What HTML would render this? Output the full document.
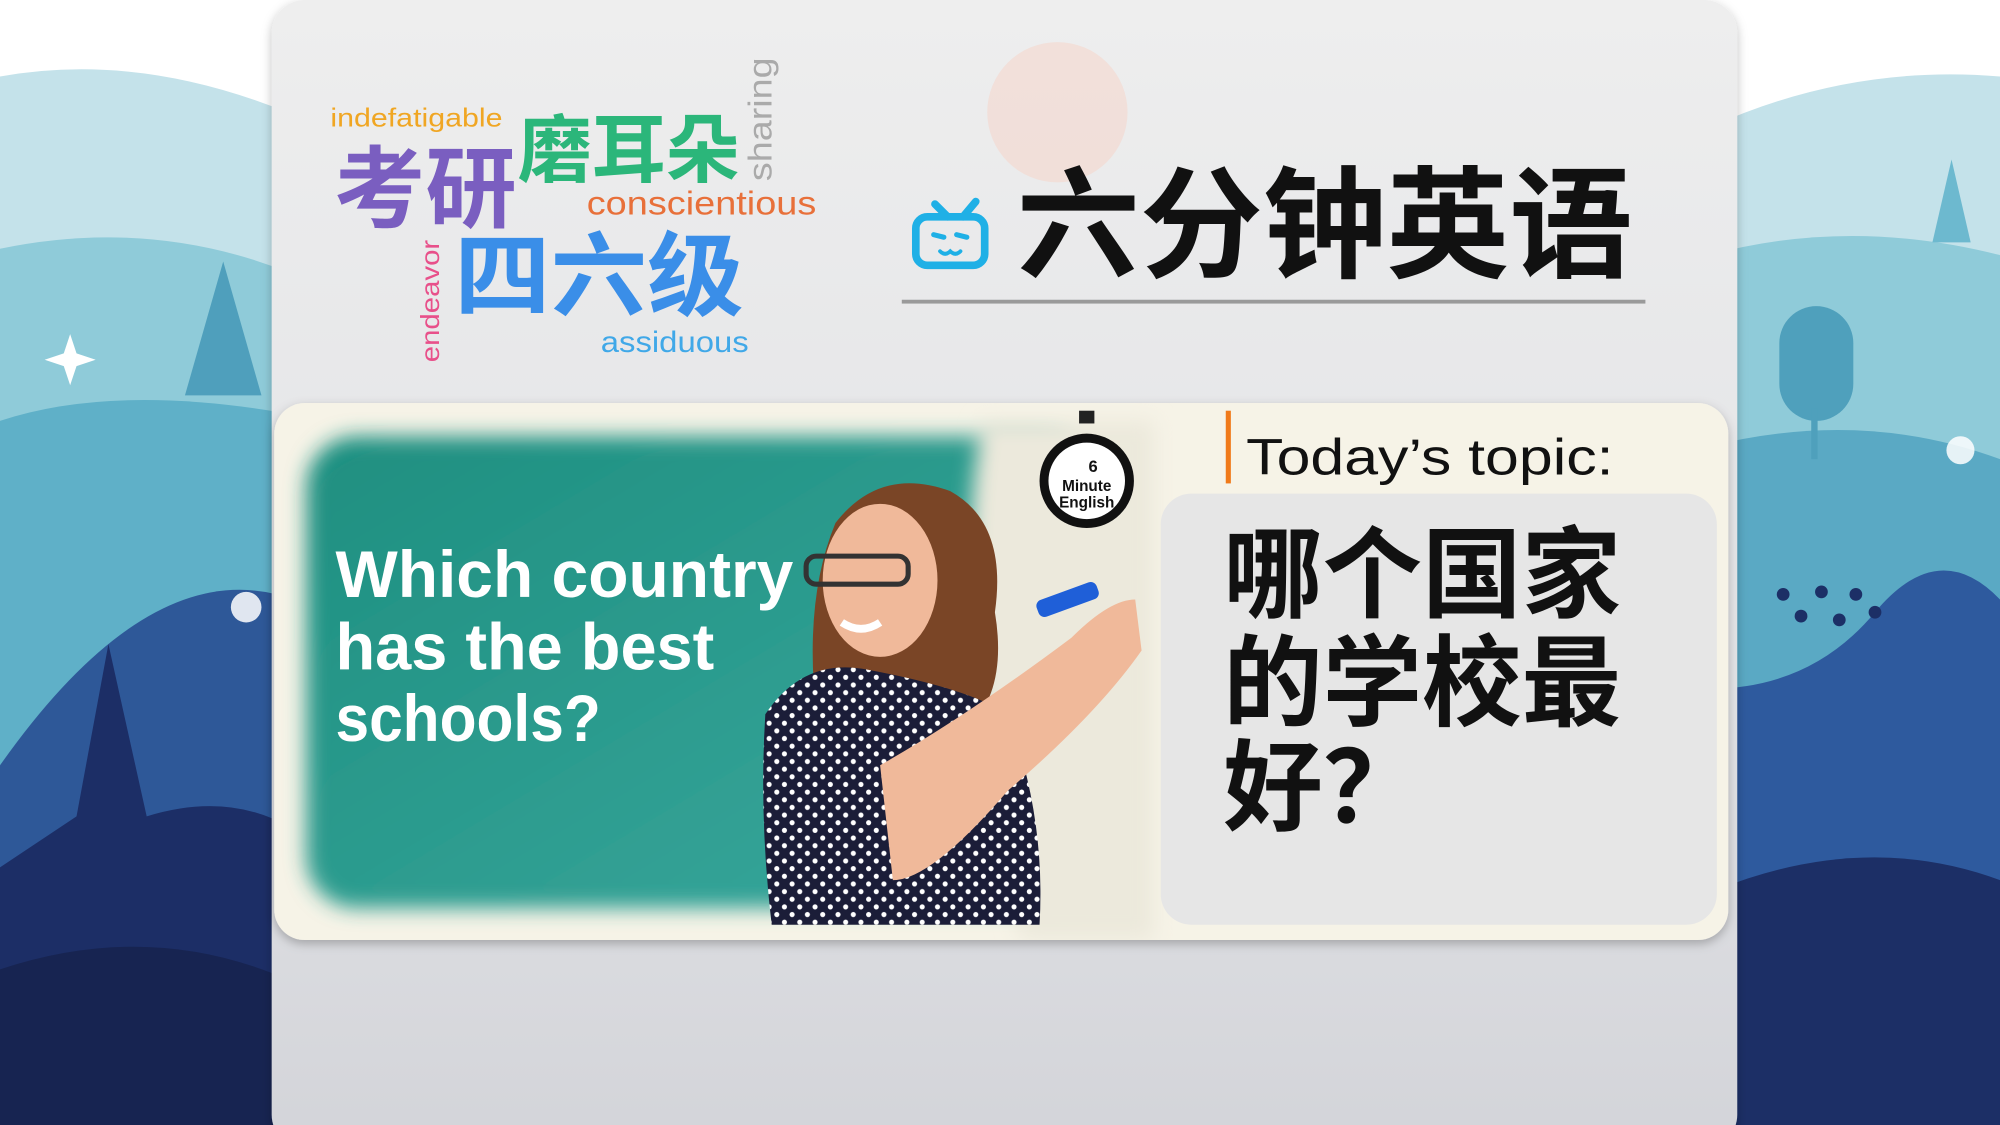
<!DOCTYPE html>
<html><head><meta charset="utf-8"><style>
html,body{margin:0;padding:0;width:2000px;height:1125px;overflow:hidden;background:#fff}
svg{display:block}
.cjk{font-family:"Liberation Sans","Noto Sans CJK SC",sans-serif}
</style></head><body>
<svg width="2000" height="1125" viewBox="0 0 1568 882" xmlns="http://www.w3.org/2000/svg">
<defs>
<linearGradient id="panel" x1="0" y1="0" x2="0" y2="1"><stop offset="0" stop-color="#eeeeee"/><stop offset="0.6" stop-color="#e2e3e6"/><stop offset="1" stop-color="#d3d4d9"/></linearGradient>
<linearGradient id="teal" x1="0" y1="0" x2="1" y2="1"><stop offset="0" stop-color="#1e8f80"/><stop offset="1" stop-color="#3aa89d"/></linearGradient>
<filter id="blur" x="-10%" y="-10%" width="120%" height="120%"><feGaussianBlur stdDeviation="8"/></filter>
<filter id="shadow" x="-5%" y="-5%" width="110%" height="115%"><feDropShadow dx="0" dy="3" stdDeviation="4" flood-color="#000" flood-opacity="0.25"/></filter>
<pattern id="dots" width="12" height="12" patternUnits="userSpaceOnUse"><rect width="12" height="12" fill="#1b1d38"/><circle cx="3" cy="3" r="2" fill="#fff"/><circle cx="9" cy="9" r="2" fill="#fff"/></pattern>
<clipPath id="cardclip"><rect x="215" y="316" width="1140" height="421" rx="24"/></clipPath>
</defs>

<g>
<path d="M0,60 Q110,40 230,90 L230,882 L0,882Z" fill="#c4e2ea"/>
<path d="M0,195 Q120,170 230,215 L230,882 L0,882Z" fill="#8fcbd9"/>
<path d="M0,330 Q90,300 230,325 L230,882 L0,882Z" fill="#5fb0c8"/>
<path d="M145,310 L175,205 L205,310Z" fill="#4f9fbc"/>
<path d="M0,600 Q120,430 230,470 L230,882 L0,882Z" fill="#2e5898"/>
<path d="M0,680 L60,640 L85,505 L115,640 Q180,620 230,650 L230,882 L0,882Z" fill="#1c2e66"/>
<path d="M0,760 Q120,720 230,770 L230,882 L0,882Z" fill="#172451"/>
<circle cx="193" cy="476" r="12" fill="#fff" opacity="0.85"/>
<path d="M55,262 l5,15 l15,5 l-15,5 l-5,15 l-5,-15 l-15,-5 l15,-5z" fill="#fff"/>
</g>
<g>
<path d="M1340,100 Q1450,50 1568,60 L1568,882 L1340,882Z" fill="#c4e2ea"/>
<path d="M1340,200 Q1450,170 1568,200 L1568,882 L1340,882Z" fill="#8fcbd9"/>
<path d="M1515,190 L1530,125 L1545,190Z" fill="#6db9cf"/>
<path d="M1340,350 Q1460,320 1568,360 L1568,882 L1340,882Z" fill="#5aa9c4"/>
<rect x="1395" y="240" width="58" height="90" rx="29" fill="#4fa0bc"/>
<rect x="1420" y="320" width="5" height="40" fill="#4fa0bc"/>
<path d="M1340,540 Q1420,540 1470,480 Q1520,420 1568,470 L1568,882 L1340,882Z" fill="#2e5a9e"/>
<path d="M1340,700 Q1460,650 1568,690 L1568,882 L1340,882Z" fill="#1c2f66"/>
<circle cx="1537" cy="353" r="11" fill="#fff" opacity="0.85"/>
<circle cx="1398" cy="466" r="5" fill="#1c2f66"/><circle cx="1428" cy="464" r="5" fill="#1c2f66"/><circle cx="1455" cy="466" r="5" fill="#1c2f66"/><circle cx="1412" cy="483" r="5" fill="#1c2f66"/><circle cx="1442" cy="486" r="5" fill="#1c2f66"/><circle cx="1470" cy="480" r="5" fill="#1c2f66"/>
</g>

<rect x="213" y="0" width="1149" height="900" rx="26" fill="url(#panel)" filter="url(#shadow)"/>
<circle cx="829" cy="88" r="55" fill="#f2dcd4" opacity="0.8"/>

<g class="cjk">
<text x="259" y="99" font-size="20" fill="#f0a623" textLength="135" lengthAdjust="spacingAndGlyphs">indefatigable</text>
<text x="406" y="138" font-size="58" font-weight="bold" fill="#2bb67a" textLength="174" lengthAdjust="spacingAndGlyphs">磨耳朵</text>
<text transform="translate(605,142) rotate(-90)" font-size="26" fill="#aaaaaa" textLength="97" lengthAdjust="spacingAndGlyphs">sharing</text>
<text x="262" y="173" font-size="70" font-weight="bold" fill="#7a5ec0" textLength="143" lengthAdjust="spacingAndGlyphs">考研</text>
<text x="460" y="168" font-size="26" fill="#e8703a" textLength="180" lengthAdjust="spacingAndGlyphs">conscientious</text>
<text transform="translate(344,284) rotate(-90)" font-size="20" fill="#e8508a" textLength="96" lengthAdjust="spacingAndGlyphs">endeavor</text>
<text x="356" y="242" font-size="72" font-weight="bold" fill="#3a8ee8" textLength="227" lengthAdjust="spacingAndGlyphs">四六级</text>
<text x="471" y="276" font-size="23" fill="#40a8e8" textLength="116" lengthAdjust="spacingAndGlyphs">assiduous</text>
</g>

<g fill="none" stroke="#1fb0e6" stroke-width="6" stroke-linecap="round">
<line x1="733" y1="160" x2="743" y2="170"/><line x1="765" y1="158" x2="755" y2="170"/>
<rect x="718" y="170" width="54" height="38" rx="9"/>
<line x1="732" y1="184" x2="740" y2="186" stroke-width="4"/><line x1="758" y1="186" x2="750" y2="184" stroke-width="4"/>
<path d="M737,197 q4,4 8,0 q4,4 8,0" stroke-width="3"/>
</g>
<text class="cjk" x="797" y="210" font-size="95" font-weight="bold" fill="#111" textLength="483" lengthAdjust="spacingAndGlyphs">六分钟英语</text>
<rect x="707" y="235" width="583" height="3" fill="#9a9a9a"/>

<g>
<rect x="215" y="316" width="1140" height="421" rx="24" fill="#f6f3e7" filter="url(#shadow)"/>
<g clip-path="url(#cardclip)">
<rect x="240" y="342" width="620" height="370" rx="40" fill="url(#teal)" filter="url(#blur)"/>
<path d="M770,330 Q740,500 800,737 L905,737 L905,330Z" fill="#ece9dc" filter="url(#blur)"/>
<g>
<path d="M655,410 Q690,365 745,385 Q790,410 780,480 Q790,540 760,570 L640,560 Q630,470 655,410Z" fill="#7a4526"/>
<ellipse cx="690" cy="455" rx="45" ry="60" fill="#f0b99a"/>
<rect x="632" y="436" width="80" height="22" rx="8" fill="none" stroke="#333" stroke-width="4"/>
<path d="M660,488 q15,10 30,0" stroke="#fff" stroke-width="6" fill="none"/>
<path d="M600,560 Q630,515 680,525 Q760,540 790,560 Q820,640 815,725 L605,725 Q595,640 600,560Z" fill="url(#dots)"/>
<path d="M690,600 Q760,560 840,500 Q870,470 890,470 L895,510 Q860,560 790,620 Q730,690 700,690Z" fill="#f0b99a"/>
<rect x="812" y="463" width="50" height="14" rx="5" transform="rotate(-20 837 470)" fill="#1f5fd8"/>
</g>
</g>
<g>
<rect x="846" y="322" width="12" height="10" fill="#222"/>
<circle cx="852" cy="377" r="37" fill="#111"/>
<circle cx="852" cy="377" r="30" fill="#fff"/>
<text x="852" y="385" font-family="Liberation Sans Narrow,Liberation Sans,sans-serif" font-weight="bold" font-size="12" text-anchor="middle" fill="#111">Minute</text>
<text x="852" y="398" font-family="Liberation Sans Narrow,Liberation Sans,sans-serif" font-weight="bold" font-size="12" text-anchor="middle" fill="#111">English</text>
<text x="857" y="370" font-family="Liberation Sans,sans-serif" font-weight="bold" font-size="13" text-anchor="middle" fill="#111">6</text>
</g>
<g font-family="Liberation Sans Narrow,Liberation Sans,sans-serif" font-weight="bold" font-size="52" fill="#fff">
<text x="263" y="468" textLength="359" lengthAdjust="spacingAndGlyphs">Which country</text>
<text x="263" y="525" textLength="297" lengthAdjust="spacingAndGlyphs">has the best</text>
<text x="263" y="581" textLength="208" lengthAdjust="spacingAndGlyphs">schools?</text>
</g>
<rect x="961" y="322" width="4" height="57" fill="#f07a1a"/>
<text x="977" y="372" font-family="Liberation Sans,sans-serif" font-size="40" fill="#111" textLength="288" lengthAdjust="spacingAndGlyphs">Today’s topic:</text>
<rect x="910" y="387" width="436" height="338" rx="24" fill="#e6e6e6"/>
<g class="cjk" font-size="78" font-weight="bold" fill="#111">
<text x="959" y="478">哪个国家</text>
<text x="959" y="563">的学校最</text>
<text x="959" y="645">好？</text>
</g>
</g>
</svg>
</body></html>
